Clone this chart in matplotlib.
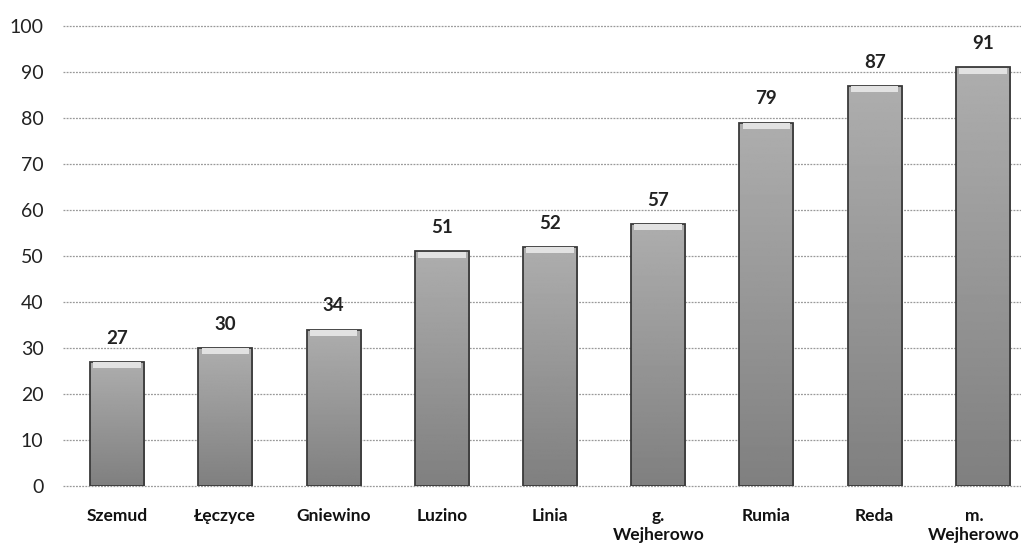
import numpy as np
import matplotlib
matplotlib.use('Agg')
import matplotlib.pyplot as plt
import matplotlib.transforms as mtransforms

plt.rcParams['font.family'] = ['Lato', 'DejaVu Sans']

# data
places = ['Szemud', 'Łęczyce', 'Gniewino', 'Luzino', 'Linia',
          'g.\nWejherowo', 'Rumia', 'Reda', 'm.\nWejherowo']
values = [27, 30, 34, 51, 52, 57, 79, 87, 91]
yticks = [0, 10, 20, 30, 40, 50, 60, 70, 80, 90, 100]

W, H = 1021, 545
fig = plt.figure(figsize=(W / 100, H / 100), dpi=100)
# right edge of the axes lies past the picture, as in the scanned original
ax = fig.add_axes([63 / W, (H - 486) / H, 974 / W, 460 / H])

x = np.arange(len(values))
bars = ax.bar(x, values, width=0.5, color='none', edgecolor='#3a3a3a',
              linewidth=1.3, zorder=4)

# vertical grey shading inside each bar
grad = np.linspace(0.5, 0.68, 256).reshape(-1, 1)
for b in bars:
    x0, w, h = b.get_x(), b.get_width(), b.get_height()
    im = ax.imshow(grad, cmap='gray', vmin=0, vmax=1, aspect='auto',
                   extent=[x0, x0 + w, 0, h], origin='lower', zorder=3)
    im.set_clip_path(b)

# lighter cap on top of each bar
ax.bar(x, [1.3] * len(values), bottom=[v - 1.4 for v in values], width=0.44,
       color='#e2e2e2', linewidth=0, zorder=4)

for xi, v in zip(x, values):
    ax.annotate(str(v), (xi, v), xytext=(0, 11), textcoords='offset points',
                ha='center', va='bottom', fontsize=13.5, fontweight='bold',
                color='#222222')

ax.set_ylim(0, 100)
ax.set_xlim(-0.5, len(values) - 0.5)
ax.set_yticks(yticks)
ax.set_xticks(x)
ax.set_xticklabels(places, fontsize=12.5, fontweight='bold', color='#111111',
                   linespacing=1.25, va='top')
ax.tick_params(axis='y', length=0, pad=14, labelsize=14, labelcolor='#222222')
ax.tick_params(axis='x', length=0, pad=16)

# keep the last label inside the picture
last = ax.get_xticklabels()[-1]
last.set_transform(last.get_transform() +
                   mtransforms.ScaledTranslation(-0.09, 0, fig.dpi_scale_trans))

ax.yaxis.grid(True, linestyle=(0, (1.5, 1)), color='#999999', linewidth=0.9,
              zorder=0)
for line in ax.get_ygridlines():
    line.set_clip_on(False)
for s in ax.spines.values():
    s.set_visible(False)

fig.savefig('out.png', dpi=100)
